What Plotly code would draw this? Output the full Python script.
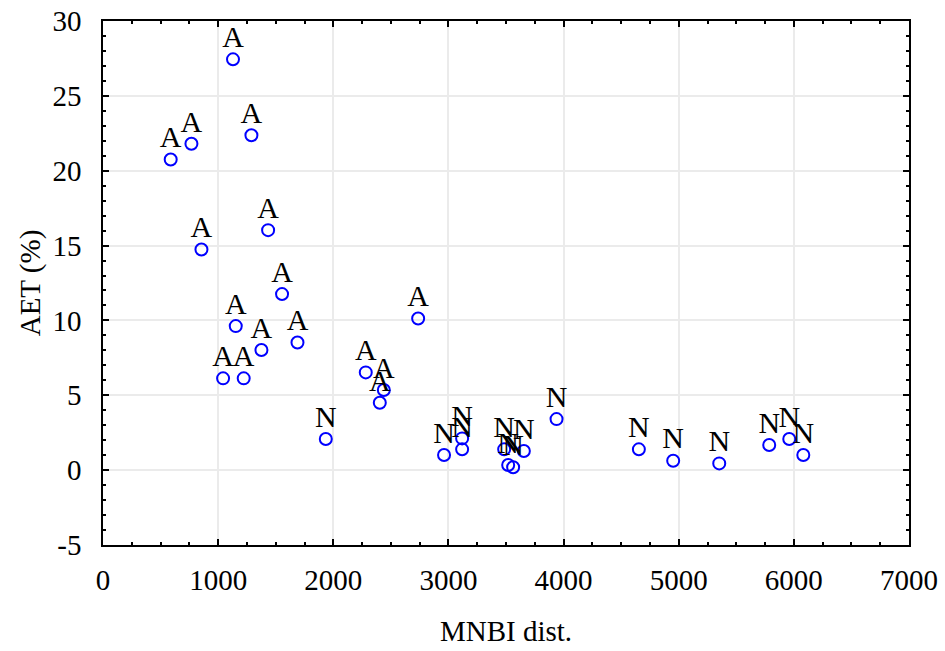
import plotly.graph_objects as go

# Data
mnbi = [588, 768, 855, 1043, 1129, 1153, 1222, 1289, 1376, 1434, 1555, 1689,
        2282, 2404, 2439, 2737,
        1935, 2962, 3119, 3119, 3484, 3519, 3562, 3655, 3939,
        4654, 4952, 5352, 5786, 5960, 6082]
aet = [20.75, 21.8, 14.74, 6.13, 27.44, 9.62, 6.13, 22.37, 8.02, 16.03, 11.76, 8.53,
       6.53, 4.5, 5.35, 10.13,
       2.08, 1.01, 2.12, 1.39, 1.39, 0.34, 0.19, 1.28, 3.41,
       1.39, 0.63, 0.45, 1.68, 2.08, 1.01]
group = ["A"] * 16 + ["N"] * 15

x_ticks = [0, 1000, 2000, 3000, 4000, 5000, 6000, 7000]
y_ticks = [-5, 0, 5, 10, 15, 20, 25, 30]

FONT = "Liberation Serif, Times New Roman, serif"

fig = go.Figure()
# open blue circles
fig.add_trace(go.Scatter(
    x=mnbi, y=aet, mode="markers",
    marker=dict(symbol="circle-open", size=12, color="#0000ff",
                line=dict(width=2, color="#0000ff")),
    cliponaxis=False, showlegend=False, hoverinfo="skip",
))
# group letters above each point
fig.add_trace(go.Scatter(
    x=mnbi, y=aet, text=group, mode="markers+text",
    textposition="top center",
    textfont=dict(family=FONT, size=30, color="black"),
    marker=dict(size=6, color="rgba(0,0,0,0)"),
    cliponaxis=False, showlegend=False,
))

axis_common = dict(
    showline=True, linecolor="black", linewidth=1.5, mirror="ticks",
    ticks="inside", ticklen=6, tickwidth=1.5, tickcolor="black",
    showgrid=True, gridcolor="#ebebeb", gridwidth=1.5,
    zeroline=False, automargin=False,
    tickfont=dict(family=FONT, size=29, color="black"),
    title_font=dict(family=FONT, size=29, color="black"),
)

fig.update_xaxes(
    range=[0, 7000], tickvals=x_ticks, ticktext=[str(v) for v in x_ticks],
    minor=dict(dtick=250, ticks="inside", ticklen=3, tickwidth=1.5,
               tickcolor="black", showgrid=False),
    title_text="MNBI dist.", title_standoff=26, ticklabelstandoff=8,
    **axis_common,
)
fig.update_yaxes(
    range=[-5, 30], tickvals=y_ticks, ticktext=[str(v) for v in y_ticks],
    minor=dict(dtick=1, ticks="inside", ticklen=3, tickwidth=1.5,
               tickcolor="black", showgrid=False),
    title_text="AET (%)", title_standoff=3, ticklabelstandoff=14,
    **axis_common,
)

fig.update_layout(
    width=945, height=651,
    margin=dict(l=103, r=36, t=21, b=106),
    plot_bgcolor="white", paper_bgcolor="white",
    font=dict(family=FONT, color="black"),
    hovermode=False,
)

fig.write_html("out.html",
               config={"displayModeBar": False},
               post_script="document.body.style.margin='0';document.body.style.overflow='hidden';")
